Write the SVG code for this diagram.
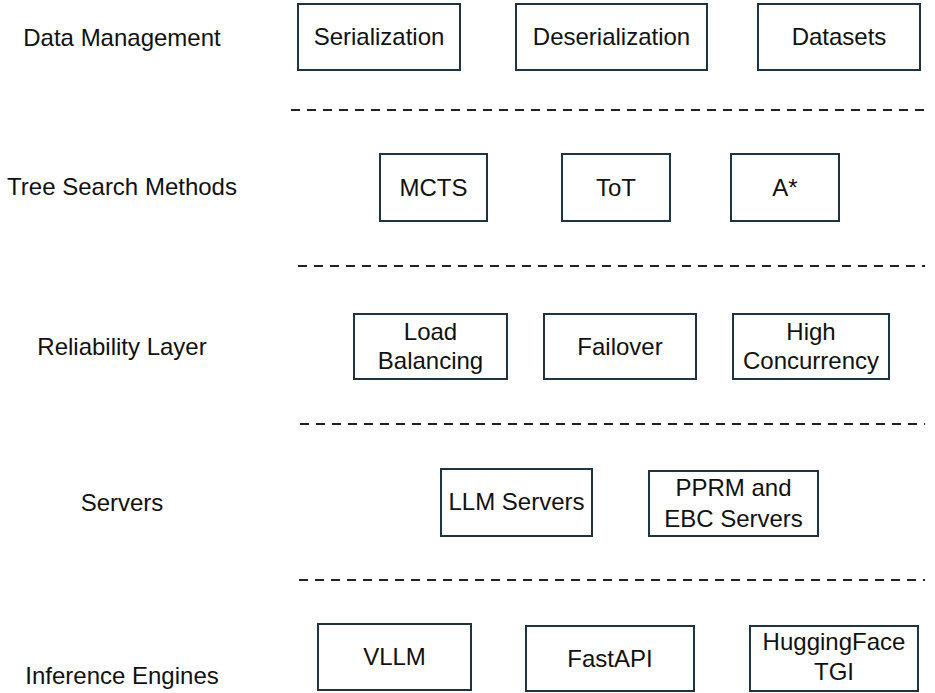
<svg xmlns="http://www.w3.org/2000/svg" width="935" height="693" viewBox="0 0 935 693">
<style>
.box{fill:#fff;stroke:#1e3442;stroke-width:2}
.t{font-family:"Liberation Sans",Arial,sans-serif;font-size:24px;fill:#111;text-anchor:middle}
.lbl{font-family:"Liberation Sans",Arial,sans-serif;font-size:24px;fill:#111;text-anchor:middle}
.dash{stroke:#222;stroke-width:2;stroke-dasharray:9 7;fill:none}
</style>
<rect width="935" height="693" fill="#fff"/>
<g id="labels">
<text class="lbl" x="122" y="46">Data Management</text>
<text class="lbl" x="122" y="195">Tree Search Methods</text>
<text class="lbl" x="122" y="355">Reliability Layer</text>
<text class="lbl" x="122" y="511">Servers</text>
<text class="lbl" x="122" y="684">Inference Engines</text>
</g>
<g id="connectors">
<line class="dash" x1="291" y1="110" x2="925" y2="110"/>
<line class="dash" x1="298" y1="266" x2="925" y2="266"/>
<line class="dash" x1="300" y1="424" x2="925" y2="424"/>
<line class="dash" x1="299" y1="580" x2="925" y2="580"/>
</g>
<g id="serialization"><rect class="box" x="298" y="4" width="162" height="66"/><text class="t" x="379" y="45">Serialization</text></g>
<g id="deserialization"><rect class="box" x="516" y="4" width="191" height="66"/><text class="t" x="611.5" y="45">Deserialization</text></g>
<g id="datasets"><rect class="box" x="758" y="4" width="162" height="66"/><text class="t" x="839" y="45">Datasets</text></g>
<g id="mcts"><rect class="box" x="380" y="154" width="107" height="67"/><text class="t" x="433.5" y="196">MCTS</text></g>
<g id="tot"><rect class="box" x="562" y="154" width="108" height="67"/><text class="t" x="616" y="196">ToT</text></g>
<g id="astar"><rect class="box" x="731" y="154" width="108" height="67"/><text class="t" x="785" y="196">A*</text></g>
<g id="load-balancing"><rect class="box" x="354" y="314" width="153" height="65"/><text class="t" x="430.5" y="340">Load</text><text class="t" x="430.5" y="369">Balancing</text></g>
<g id="failover"><rect class="box" x="544" y="314" width="152" height="65"/><text class="t" x="620" y="355">Failover</text></g>
<g id="high-concurrency"><rect class="box" x="733" y="314" width="156" height="65"/><text class="t" x="811" y="340">High</text><text class="t" x="811" y="369">Concurrency</text></g>
<g id="llm-servers"><rect class="box" x="441" y="469" width="151" height="67"/><text class="t" x="516.5" y="510">LLM Servers</text></g>
<g id="pprm-ebc-servers"><rect class="box" x="649" y="471" width="169" height="65"/><text class="t" x="733.5" y="496">PPRM and</text><text class="t" x="733.5" y="527">EBC Servers</text></g>
<g id="vllm"><rect class="box" x="318" y="624" width="153" height="66"/><text class="t" x="394.5" y="665">VLLM</text></g>
<g id="fastapi"><rect class="box" x="526" y="626" width="168" height="65"/><text class="t" x="610" y="667">FastAPI</text></g>
<g id="huggingface-tgi"><rect class="box" x="750" y="626" width="168" height="65"/><text class="t" x="834" y="650">HuggingFace</text><text class="t" x="834" y="680">TGI</text></g>
</svg>
